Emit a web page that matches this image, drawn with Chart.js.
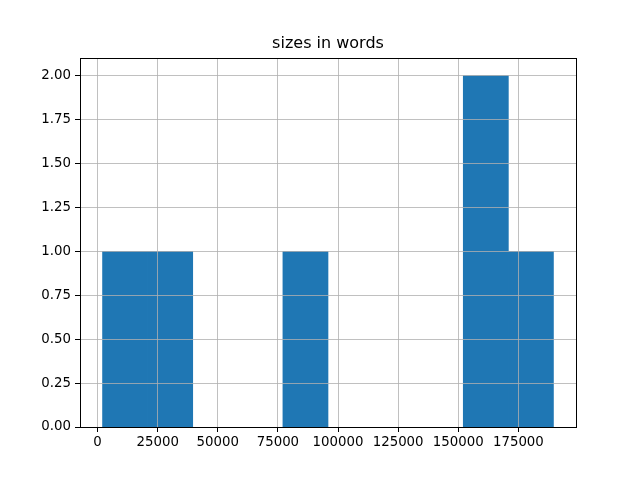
<!DOCTYPE html>
<html><head><meta charset="utf-8">
<script src="https://cdn.jsdelivr.net/npm/chart.js@4"></script>
<style>html,body{margin:0;padding:0;background:#fff}</style>
</head><body>
<canvas id="c" width="640" height="480"></canvas>
<script>
const binEdges = [2083, 20833, 39583, 58333, 77083, 95833, 114583, 133333, 152083, 170833, 189583];
const counts = [1, 1, 0, 0, 1, 0, 0, 0, 2, 1];
const xTicks = [0, 25000, 50000, 75000, 100000, 125000, 150000, 175000];
const yTicks = [0, 0.25, 0.5, 0.75, 1.0, 1.25, 1.5, 1.75, 2.0];
const titleText = 'sizes in words';

const span = binEdges[binEdges.length - 1] - binEdges[0];
const xMin = binEdges[0] - span * 0.05;
const xMax = binEdges[binEdges.length - 1] + span * 0.05;
const yMax = Math.max(...counts) * 1.05;

const barData = counts.map((c, i) => ({ x: (binEdges[i] + binEdges[i + 1]) / 2, y: c === 0 ? null : c }));

const FONT = 'DejaVu Sans';
const tickFont = { family: FONT, size: 13.33 };

const spines = {
  id: 'spines',
  afterDraw(chart) {
    const a = chart.chartArea, ctx = chart.ctx;
    ctx.save();
    ctx.strokeStyle = '#000';
    ctx.lineWidth = 1;
    ctx.strokeRect(Math.round(a.left) + 0.5, Math.round(a.top) + 0.5, Math.round(a.right - a.left), Math.round(a.bottom - a.top));
    ctx.restore();
  }
};

new Chart(document.getElementById('c'), {
  type: 'bar',
  data: {
    datasets: [{
      data: barData,
      backgroundColor: '#1f77b4',
      borderWidth: 0,
      barPercentage: 1.0,
      categoryPercentage: 1.0
    }]
  },
  options: {
    responsive: false,
    animation: false,
    devicePixelRatio: 1,
    layout: { padding: { left: 0, right: 64, top: 34.4, bottom: 0 } },
    plugins: {
      legend: { display: false },
      tooltip: { enabled: false },
      title: {
        display: true,
        fullSize: false,
        text: titleText,
        color: '#000',
        font: { family: FONT, size: 16, weight: 'normal' },
        padding: { top: 0, bottom: 4.4 }
      }
    },
    scales: {
      x: {
        type: 'linear',
        min: xMin,
        max: xMax,
        offset: false,
        afterBuildTicks: s => { s.ticks = xTicks.map(v => ({ value: v })); },
        afterFit: s => { s.height = 53; },
        grid: { z: 1, offset: false, color: '#b0b0b0', lineWidth: 0.8, tickColor: '#000', tickLength: 5, tickWidth: 1 },
        border: { display: false },
        ticks: { color: '#000', font: tickFont, padding: 3, maxRotation: 0, autoSkip: false, callback: v => String(v) }
      },
      y: {
        type: 'linear',
        min: 0,
        max: yMax,
        afterBuildTicks: s => { s.ticks = yTicks.map(v => ({ value: v })); },
        afterFit: s => { s.width = 80; },
        grid: { z: 1, color: '#b0b0b0', lineWidth: 0.8, tickColor: '#000', tickLength: 5, tickWidth: 1 },
        border: { display: false },
        ticks: { color: '#000', font: tickFont, padding: 4, autoSkip: false, callback: v => Number(v).toFixed(2) }
      }
    }
  },
  plugins: [spines]
});
</script>
</body></html>
